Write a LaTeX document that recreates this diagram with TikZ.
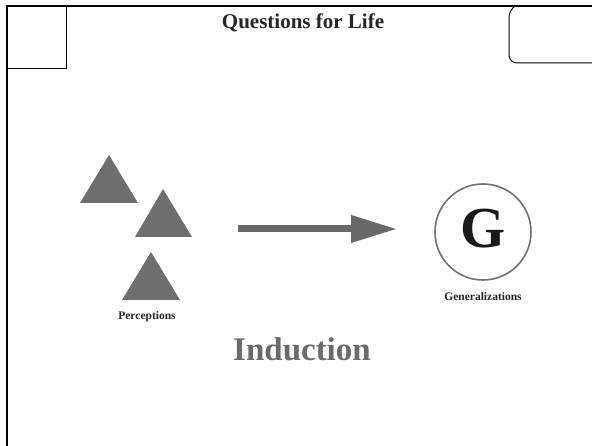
\documentclass[tikz,border=0pt]{standalone}
\usepackage{fontspec}
\setmainfont{Liberation Serif}
\usetikzlibrary{arrows.meta}
\definecolor{tri}{HTML}{6E6E6E}
\definecolor{arr}{HTML}{686868}
\definecolor{circ}{HTML}{707070}
\definecolor{ind}{HTML}{6A6A6A}
\begin{document}
\begin{tikzpicture}[x=1pt,y=-1pt,
  trishape/.style={fill=tri},
  lbl/.style={font=\bfseries\fontsize{11.5}{13}\selectfont, text=black!85}]
\useasboundingbox (0,0) rectangle (592,446);
% frame
\draw[line width=2.4pt] (7,446) -- (7,6) -- (592,6);
\draw[line width=1pt] (7,69) -- (66,69) -- (66,6);
\draw[line width=1pt, rounded corners=8pt] (592,63) -- (509,63) -- (509,9) -- (515,6);
\node[font=\bfseries\fontsize{21}{24}\selectfont, text=black!85] (title) at (303,23) {Questions for Life};
% triangles
\fill[trishape] (80,203) -- (109,155) -- (138,203) -- cycle;
\fill[trishape] (135,237) -- (163,189) -- (192,237) -- cycle;
\fill[trishape] (122,300) -- (151,252) -- (180,300) -- cycle;
\node[lbl] (perc) at (147,317) {Perceptions};
% arrow
\coordinate (astart) at (238,229);
\coordinate (aend) at (397,229);
\draw[arr, line width=7pt, -{Triangle[length=46pt,width=26pt]}] (astart) -- (aend);
% circle
\node[draw=circ, line width=1.6pt, circle, minimum size=96pt, inner sep=0pt] (G) at (483,232) {};
\node[font=\bfseries\fontsize{58}{60}\selectfont, text=black!90] (Gl) at (483,229) {G};
\node[lbl] (gen) at (483,297) {Generalizations};
\node[font=\bfseries\fontsize{33}{36}\selectfont, text=ind] (induct) at (302,349) {Induction};
\end{tikzpicture}
\end{document}
